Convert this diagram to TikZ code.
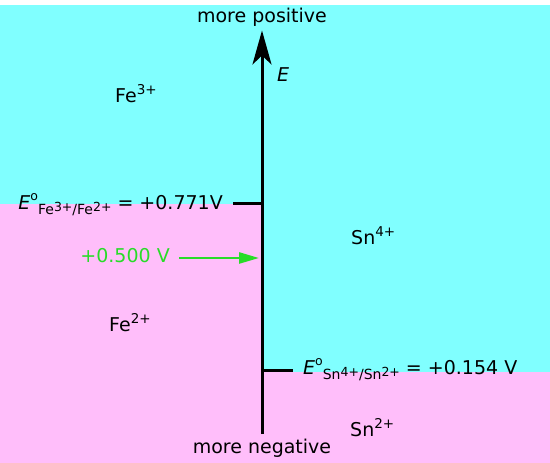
\documentclass[tikz,border=0pt]{standalone}
\usepackage{fontspec}
\setmainfont{DejaVu Sans}
\usetikzlibrary{arrows.meta,positioning}
\definecolor{oxcyan}{RGB}{128,255,255}
\definecolor{redpink}{RGB}{255,190,250}
\definecolor{valgreen}{RGB}{40,220,40}
\newcommand{\ionlbl}[2]{#1\raisebox{8pt}{\fontsize{13.5}{13}\selectfont #2}}
\newcommand{\subion}[2]{#1\raisebox{3pt}{\fontsize{12.5}{12}\selectfont #2}}
\newcommand{\Estd}[4]{\textit{E}\raisebox{9.5pt}{\fontsize{12.5}{12}\selectfont o}%
  \raisebox{-5pt}{\fontsize{14}{13}\selectfont \subion{#1}{#2}/\subion{#3}{#4}}}

\begin{document}
\begin{tikzpicture}[x=1pt, y=1pt,
  lbl/.style={font=\fontsize{19}{22}\selectfont, inner sep=0pt},
  axisline/.style={line width=3pt, -{Stealth[length=34pt, width=19pt, inset=9pt]}},
  tickline/.style={line width=3pt},
  valarrow/.style={valgreen, line width=2.5pt, -{Triangle[length=20pt, width=11pt]}},
]
  \useasboundingbox (0,0) rectangle (550,463);
  % regions
  \fill[oxcyan] (0,0) rectangle (550,458);
  \fill[redpink] (0,0) rectangle (262,259);
  \fill[redpink] (262,0) rectangle (550,91);
  % axis labels
  \node[lbl, anchor=base, inner sep=3.33pt] (pos) at (262,440) {more positive};
  \node[lbl, anchor=base, inner sep=3.33pt] (neg) at (262,9) {more negative};
  \draw[axisline, shorten <=2pt] (neg) -- (pos);
  \node[lbl, anchor=base west] (Elbl) at (277,381) {\textit{E}};
  % species
  \node[lbl, anchor=base west] (fe3) at (115,360) {\ionlbl{Fe}{3+}};
  \node[lbl, anchor=base west] (fe2) at (109,131) {\ionlbl{Fe}{2+}};
  \node[lbl, anchor=base west] (sn4) at (351,218) {\ionlbl{Sn}{4+}};
  \node[lbl, anchor=base west] (sn2) at (350,26) {\ionlbl{Sn}{2+}};
  % standard potentials
  \coordinate (feT) at (262,259);
  \coordinate (snT) at (262,92);
  \node[lbl, anchor=base east, inner xsep=10pt] (feE) at (233,253)
    {\Estd{Fe}{3+}{Fe}{2+} = +0.771V};
  \draw[tickline] (feE.east |- feT) -- (feT);
  \node[lbl, anchor=base west, inner xsep=10pt] (snE) at (293,88)
    {\Estd{Sn}{4+}{Sn}{2+} = +0.154 V};
  \draw[tickline] (snT) -- (snT -| snE.west);
  % cell potential
  \coordinate (valT) at (259,205);
  \node[lbl, anchor=base east, valgreen, inner xsep=9pt] (val) at (179,200) {+0.500 V};
  \draw[valarrow] (val.east |- valT) -- (valT);
\end{tikzpicture}
\end{document}
